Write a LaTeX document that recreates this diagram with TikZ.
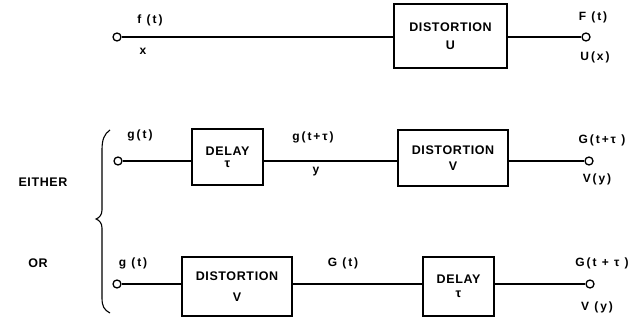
\documentclass[tikz,border=0pt]{standalone}
\usepackage{fontspec}
\setmainfont{Liberation Sans}
\newfontfamily\boxfont[LetterSpace=5]{Liberation Sans}
\newfontfamily\labfont[LetterSpace=16]{Liberation Sans}
\begin{document}
\begin{tikzpicture}[x=1pt,y=-1pt,
  term/.style={circle,draw,fill=white,line width=1.3pt,inner sep=0pt,minimum size=8pt},
  blk/.style={draw,line width=1.3pt,align=center,inner sep=0pt,font=\boxfont\bfseries\fontsize{12.5}{14}\selectfont},
  lbl/.style={font=\labfont\bfseries\fontsize{12}{13}\selectfont,inner sep=0pt},
  side/.style={font=\boxfont\bfseries\fontsize{12.5}{14}\selectfont,inner sep=0pt},
  wire/.style={line width=1.3pt}]
\useasboundingbox (0,0) rectangle (632,321);

% top row
\node[term] (i1) at (117,37) {};
\node[blk,minimum width=113pt,minimum height=64pt] (bu) at (450.5,36) {DISTORTION\\[4pt]U};
\node[term] (o1) at (586,37) {};
\draw[wire] (i1) -- (i1 -| bu.west);
\draw[wire] (bu.east |- o1) -- (o1);
\node[lbl] (lf) at (150,20) {f (t)};
\node[lbl] (lx) at (143,51) {x};
\node[lbl] (lF) at (593,17) {F (t)};
\node[lbl] (lU) at (595,57) {U(x)};

% either row
\node[term] (i2) at (118,161) {};
\node[blk,minimum width=71pt,minimum height=56pt] (d1) at (227.5,157) {DELAY\\[-2pt]τ};
\node[blk,minimum width=110pt,minimum height=56pt] (v1) at (453,158) {DISTORTION\\[2pt]V};
\node[term] (o2) at (589,161) {};
\draw[wire] (i2) -- (i2 -| d1.west);
\draw[wire] (d1.east |- i2) -- (i2 -| v1.west);
\draw[wire] (v1.east |- o2) -- (o2);
\node[lbl] (lg1) at (140,135) {g(t)};
\node[lbl] (lgt) at (313,137) {g(t+τ)};
\node[lbl] (ly) at (316,172) {y};
\node[lbl] (lG1) at (602,140) {G(t+τ )};
\node[lbl] (lV1) at (597,179) {V(y)};

% or row
\node[term] (i3) at (117,284) {};
\node[blk,minimum width=110pt,minimum height=59pt] (v2) at (237,286.5) {DISTORTION\\[7pt]V};
\node[blk,minimum width=71pt,minimum height=59pt] (d2) at (458.5,286.5) {DELAY\\[0.5pt]τ};
\node[term] (o3) at (590,284) {};
\draw[wire] (i3) -- (i3 -| v2.west);
\draw[wire] (v2.east |- i3) -- (i3 -| d2.west);
\draw[wire] (d2.east |- o3) -- (o3);
\node[lbl] (lg2) at (133,263) {g (t)};
\node[lbl] (lGt) at (343,263) {G (t)};
\node[lbl] (lG2) at (602,263) {G(t + τ )};
\node[lbl] (lV2) at (597,307) {V (y)};

% side labels and brace
\node[side] (either) at (43,182) {EITHER};
\node[side] (or) at (38,263) {OR};
\draw[line width=1.1pt] (110,130) .. controls (104,134) and (102,140) .. (102,150) -- (102,210)
  .. controls (102,215) and (99,218) .. (96,219) .. controls (99,220) and (102,223) .. (102,228)
  -- (102,298) .. controls (102,306) and (104,310) .. (110,313);
\end{tikzpicture}
\end{document}
